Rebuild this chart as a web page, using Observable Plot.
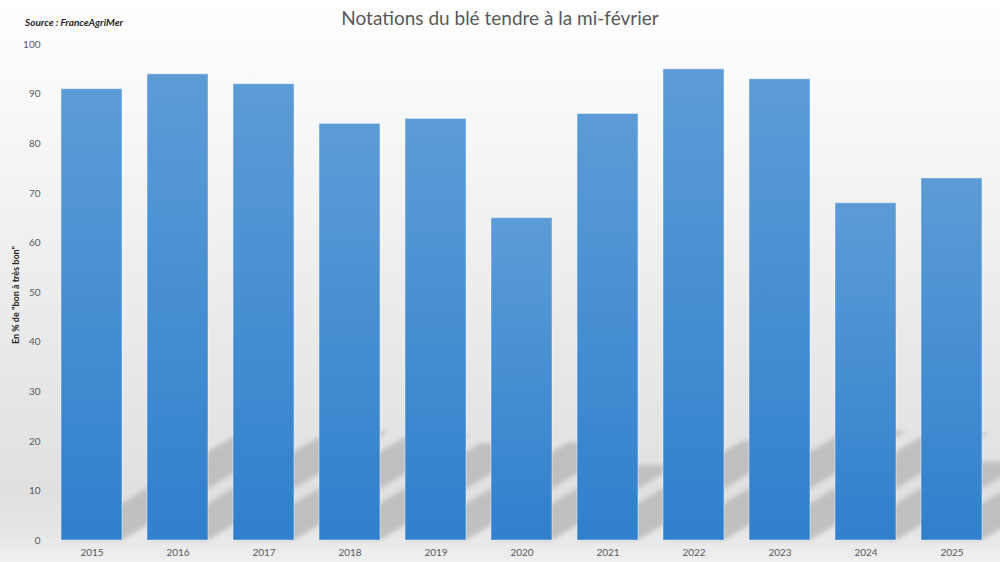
<!DOCTYPE html>
<html><head><meta charset="utf-8">
<script src="https://cdn.jsdelivr.net/npm/d3@7"></script>
<script src="https://cdn.jsdelivr.net/npm/@observablehq/plot@0.6"></script>
<style>
body{margin:0;background:#fff;}
#wrap{position:relative;width:1000px;height:562px;overflow:hidden;
  background:linear-gradient(to bottom,#ffffff 0%,#f6f6f6 25%,#ebebeb 55%,#e0e0e0 88%,#e6e6e6 95%,#f0f0f0 100%);
  font-family:Lato,"Open Sans",sans-serif;}
#head{height:35px;position:relative;}
#title{position:absolute;left:0;right:0;top:6px;text-align:center;font-size:19px;color:#595959;}
#source{position:absolute;left:25px;top:16px;font-size:10px;font-style:italic;font-weight:bold;color:#262626;}
#ylab{position:absolute;left:15px;top:295px;transform:translate(-50%,-50%) rotate(-90deg);font-size:9px;font-weight:bold;color:#262626;white-space:nowrap;}
#chart svg{display:block;}
</style>
</head>
<body>
<div id="wrap">
  <div id="head">
    <div id="source">Source : FranceAgriMer</div>
    <div id="title">Notations du blé tendre à la mi-février</div>
  </div>
  <div id="ylab">En % de "bon à très bon"</div>
  <div id="chart"></div>
</div>
<script>
const years = ["2015","2016","2017","2018","2019","2020","2021","2022","2023","2024","2025"];
const ratings = [91, 94, 92, 84, 85, 65, 86, 95, 93, 68, 73];
const yTicks = [0, 10, 20, 30, 40, 50, 60, 70, 80, 90, 100];

const rows = years.map((y, i) => ({year: y, value: ratings[i]}));

const chart = Plot.plot({
  width: 1000,
  height: 527,
  marginLeft: 44,
  marginRight: 0,
  marginTop: 9,
  marginBottom: 22,
  style: {background: "transparent", fontFamily: "Lato, 'Open Sans', sans-serif", fontSize: "10px", color: "#595959"},
  x: {type: "band", domain: years, paddingInner: 0.29, paddingOuter: 0.2, label: null, tickSize: 0, tickPadding: 8},
  y: {domain: [0, 100], ticks: yTicks, label: null, tickSize: 0, tickPadding: 4},
  marks: [
    Plot.barY(rows, {x: "year", y: "value", fill: "url(#barGrad)", stroke: "#ffffff", strokeOpacity: 0.45, strokeWidth: 1})
  ]
});
document.getElementById("chart").appendChild(chart);

// decorations: gradient, shadows derived from the plot's own scales
const svg = d3.select(chart);
const defs = svg.insert("defs", ":first-child");
const g = defs.append("linearGradient").attr("id", "barGrad").attr("x1", 0).attr("y1", 0).attr("x2", 0).attr("y2", 1);
g.append("stop").attr("offset", "0%").attr("stop-color", "#5c9cd6");
g.append("stop").attr("offset", "100%").attr("stop-color", "#3080cd");
defs.append("filter").attr("id", "softBlur").attr("x", "-20%").attr("y", "-20%").attr("width", "140%").attr("height", "140%")
  .append("feGaussianBlur").attr("stdDeviation", 2);

const xs = chart.scale("x"), ys = chart.scale("y");
const bw = xs.bandwidth;
const y0 = ys.apply(0);
const shadowGroup = svg.insert("g", 'g[aria-label="bar"]').attr("filter", "url(#softBlur)");
rows.forEach(d => {
  const xa = xs.apply(d.year), xb = xa + bw;
  const h = y0 - ys.apply(d.value);
  const dy = h * 0.232, dx = dy / 0.6;
  const pts = [[xa, y0], [xb, y0], [xb + dx, y0 - dy], [xa + dx, y0 - dy]];
  shadowGroup.append("polygon").attr("points", pts.map(p => p.join(",")).join(" "))
    .attr("fill", "#b4b4b4").attr("fill-opacity", 0.75);
});
</script>
</body></html>
